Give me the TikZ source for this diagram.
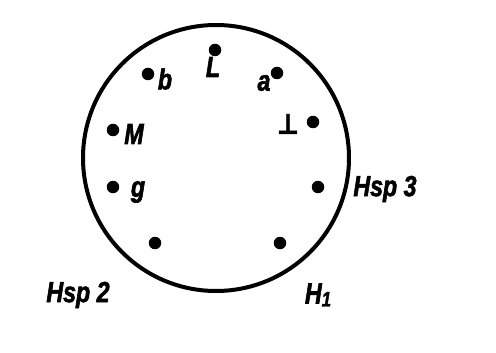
\documentclass[tikz,border=0pt]{standalone}
\usepackage{fontspec}
\setmainfont{Liberation Sans}
\newfontfamily\labfont[FakeStretch=0.8,FakeBold=2]{Liberation Sans}
\newfontfamily\symfont[FakeStretch=0.85,FakeBold=2]{DejaVu Sans}
\begin{document}
\begin{tikzpicture}[x=1pt,y=-1pt,
  pin/.style={circle,fill=black,inner sep=0pt,minimum size=12.5pt},
  lab/.style={inner sep=0pt,font=\labfont\fontsize{29}{29}\selectfont\bfseries\itshape}]
\useasboundingbox (0,0) rectangle (496,353);
\node[draw=black,line width=4pt,circle,minimum size=266pt,inner sep=0pt] (ring) at (216,158) {};
\node[pin] (pl) at (215,50) {};
\node[pin] (pb) at (148,74) {};
\node[pin] (pa) at (277,73) {};
\node[pin] (pM) at (113,130) {};
\node[pin] (pT) at (313,122) {};
\node[pin] (pg) at (113,187) {};
\node[pin] (pH3) at (318,187) {};
\node[pin] (pH2) at (155,243) {};
\node[pin] (pH1) at (280,243) {};
\node[lab] (ll) at (213,67) {L};
\node[lab] (lb) at (165,79) {b};
\node[lab] (la) at (264,83) {a};
\node[lab] (lM) at (134,134) {M};
\node[lab,font=\symfont\fontsize{28}{28}\selectfont\bfseries] (lT) at (288,124) {⊥};
\node[lab] (lg) at (138,192) {g};
\node[lab] (lH3) at (385,189) {Hsp 3};
\node[lab] (lH2) at (78,295) {Hsp 2};
\node[lab] (lH1) at (318,295) {H\raisebox{-3pt}{\fontsize{21}{21}\selectfont 1}};
\end{tikzpicture}
\end{document}
